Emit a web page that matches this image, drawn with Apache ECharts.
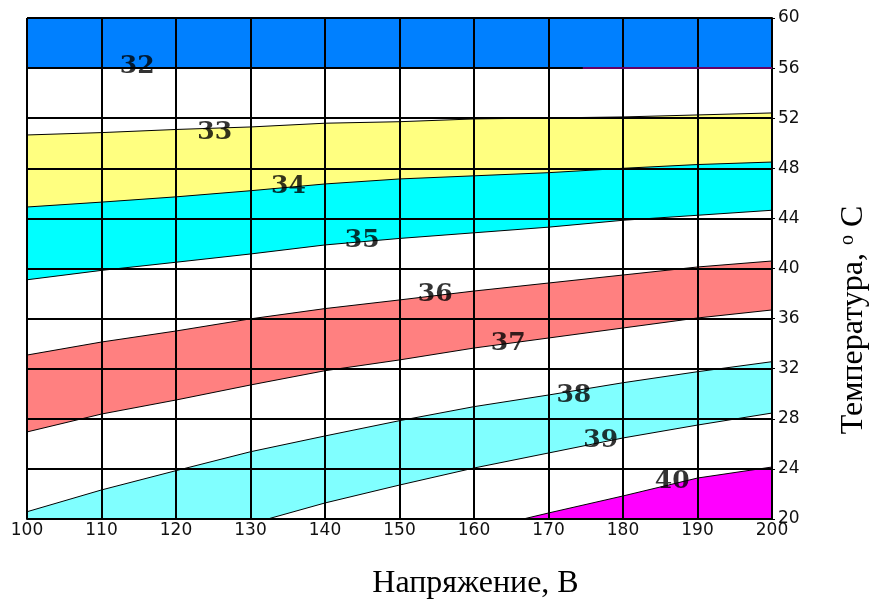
<!DOCTYPE html>
<html><head><meta charset="utf-8">
<script src="https://cdn.jsdelivr.net/npm/echarts@6/dist/echarts.min.js"></script>
<style>html,body{margin:0;padding:0;background:#fff}#c{width:871px;height:599px}</style>
</head><body><div id="c"></div>
<script>
// Voltage (x) sample points for the isolines
const voltage = [100, 110, 120, 130, 140, 150, 160, 170, 180, 190, 200];
// Isoline temperatures (y) for each contour level
const iso32 = [56, 56, 56, 56, 56, 56, 56, 56, 56, 56, 56];
const iso33 = [50.66, 50.85, 51.1, 51.3, 51.6, 51.72, 51.94, 52.02, 52.1, 52.26, 52.42];
const iso34 = [44.91, 45.3, 45.72, 46.21, 46.75, 47.15, 47.4, 47.65, 48.0, 48.3, 48.5];
const iso35 = [39.1, 39.85, 40.5, 41.16, 41.88, 42.4, 42.85, 43.3, 43.85, 44.25, 44.65];
const iso36 = [33.09, 34.13, 35.01, 35.98, 36.8, 37.49, 38.2, 38.84, 39.48, 40.12, 40.6];
const iso37 = [26.95, 28.38, 29.5, 30.7, 31.84, 32.7, 33.65, 34.45, 35.25, 36.05, 36.69];
const iso38 = [20.58, 22.32, 23.86, 25.37, 26.63, 27.85, 28.97, 29.9, 30.88, 31.76, 32.56];
const iso39Voltage = [132.3, 140, 150, 160, 170, 180, 190, 200];
const iso39 = [20, 21.28, 22.71, 24.07, 25.27, 26.47, 27.5, 28.46];
const iso40Voltage = [166.6, 170, 180, 190, 200];
const iso40 = [20, 20.48, 21.84, 23.27, 24.15];
const isoPurpleVoltage = [174.6, 200];
const isoPurple = [56, 56];

// Contour labels
const labelText = ['32', '33', '34', '35', '36', '37', '38', '39', '40'];
const labelVoltage = [114.8, 125.2, 135.1, 145.0, 154.8, 164.6, 173.4, 177.0, 186.6];
const labelTemp = [56.09, 50.82, 46.55, 42.2, 37.96, 34.05, 29.9, 26.23, 23.03];

// Axis ticks
const xTicks = {min: 100, max: 200, step: 10};
const yTicks = {min: 20, max: 60, step: 4};

// Band fill below each isoline
const topColor = '#0080FF';
const fills = {
  iso32: '#FFFFFF', iso33: '#FFFF80', iso34: '#00FFFF', iso35: '#FFFFFF',
  iso36: '#FF8080', iso37: '#FFFFFF', iso38: '#80FFFF', iso39: '#FFFFFF', iso40: '#FF00FF'
};

const zip = (xs, ys) => xs.map((x, i) => [x, ys[i]]);
const lines = [
  ['iso32', zip(voltage, iso32)],
  ['iso33', zip(voltage, iso33)],
  ['iso34', zip(voltage, iso34)],
  ['iso35', zip(voltage, iso35)],
  ['iso36', zip(voltage, iso36)],
  ['iso37', zip(voltage, iso37)],
  ['iso38', zip(voltage, iso38)],
  ['iso39', zip(iso39Voltage, iso39)],
  ['iso40', zip(iso40Voltage, iso40)]
];

const series = lines.map(([name, data]) => ({
  name, type: 'line', data, symbol: 'none', z: 2,
  lineStyle: {color: '#000', width: 1},
  areaStyle: {color: fills[name], opacity: 1, origin: 'start'},
  silent: true
}));
series.push({
  name: 'purple', type: 'line', data: zip(isoPurpleVoltage, isoPurple), symbol: 'none', z: 8,
  lineStyle: {color: '#660066', width: 2}
});
series.push({
  name: 'labels', type: 'scatter', z: 10, symbolSize: 0,
  itemStyle: {color: '#000'},
  data: labelText.map((t, i) => [labelVoltage[i], labelTemp[i], t]),
  label: {
    show: true, position: 'inside', formatter: p => p.data[2],
    fontFamily: 'DejaVu Serif', fontWeight: 'bold', fontSize: 25, color: '#000',
    textBorderWidth: 0, textShadowBlur: 0
  }
});

const chart = echarts.init(document.getElementById('c'), null, {renderer: 'canvas'});
chart.setOption({
  animation: false,
  backgroundColor: '#fff',
  grid: {left: 27, right: 99, top: 18, bottom: 80, show: true, backgroundColor: topColor, borderWidth: 0,
         containLabel: false, outerBoundsMode: 'none'},
  xAxis: {
    type: 'value', min: xTicks.min, max: xTicks.max, interval: xTicks.step, z: 5,
    axisLine: {show: true, lineStyle: {color: '#000', width: 2}},
    axisTick: {show: false},
    splitLine: {show: true, lineStyle: {color: '#000', width: 2}},
    axisLabel: {color: '#111', fontFamily: 'DejaVu Sans', fontSize: 17, margin: 3},
    name: 'Напряжение, В', nameLocation: 'middle', nameGap: 49,
    nameTextStyle: {fontFamily: 'Liberation Serif', fontSize: 32, color: '#000', padding: [0, 0, 0, 152]}
  },
  yAxis: {
    type: 'value', position: 'right', min: yTicks.min, max: yTicks.max, interval: yTicks.step, z: 5,
    axisLine: {show: true, lineStyle: {color: '#000', width: 2}},
    axisTick: {show: true, length: 3, lineStyle: {color: '#000'}},
    splitLine: {show: true, lineStyle: {color: '#000', width: 2}},
    axisLabel: {color: '#111', fontFamily: 'DejaVu Sans', fontSize: 17, margin: 6},
    name: 'Температура, {sup|o} C', nameLocation: 'middle', nameGap: 66, nameRotate: 90,
    nameTextStyle: {
      fontFamily: 'Liberation Serif', fontSize: 32, color: '#000', padding: [0, 103, 0, 0],
      rich: {sup: {fontFamily: 'Liberation Serif', fontSize: 20, color: '#000', verticalAlign: 'top', padding: [0, 0, 12, 0]}}
    }
  },
  series
});
</script>
</body></html>
